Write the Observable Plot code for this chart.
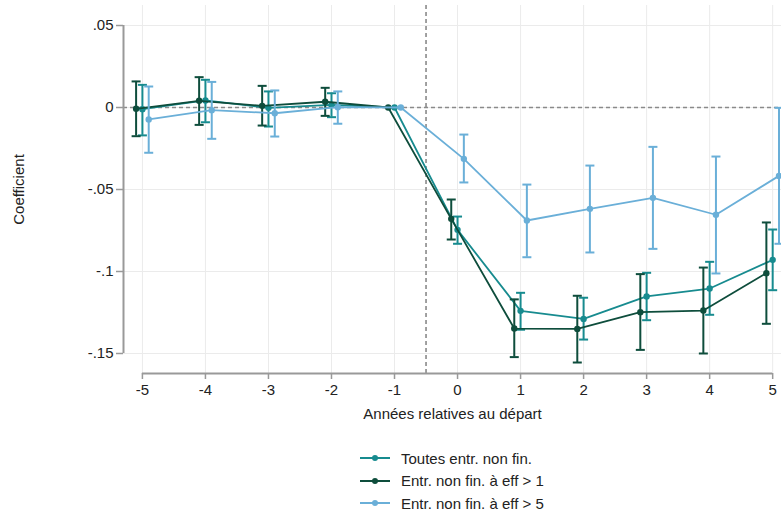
<!DOCTYPE html>
<html>
<head>
<meta charset="utf-8">
<script src="https://cdn.jsdelivr.net/npm/d3@7"></script>
<script src="https://cdn.jsdelivr.net/npm/@observablehq/plot@0.6"></script>
<style>
  html, body { margin: 0; padding: 0; background: #fff; }
  body { width: 781px; height: 511px; position: relative; overflow: hidden; font-family: "Liberation Sans", Arial, sans-serif; color: #222; }
  #legend { position: absolute; left: 360px; top: 447px; font-size: 15px; }
  .item { display: flex; align-items: center; height: 22.5px; }
  .item svg { margin-right: 11px; }
</style>
</head>
<body>
<div id="chart"></div>
<div id="legend"></div>
<script>
const years = [-5, -4, -3, -2, -1, 0, 1, 2, 3, 4, 5];
const seriesNames = ["Toutes entr. non fin.", "Entr. non fin. à eff > 1", "Entr. non fin. à eff > 5"];

const coefAll   = [-0.001, 0.0043, -0.0002, 0.0016, 0, -0.0746, -0.124, -0.1289, -0.1152, -0.1104, -0.0929];
const loAll     = [-0.017, -0.009, -0.0116, -0.0059, 0, -0.0831, -0.1355, -0.1415, -0.1297, -0.1264, -0.1114];
const hiAll     = [0.0138, 0.0169, 0.0098, 0.0087, 0, -0.0665, -0.113, -0.116, -0.1008, -0.0941, -0.0744];

const coefEff1  = [-0.0008, 0.0041, 0.001, 0.0035, 0, -0.0679, -0.1348, -0.135, -0.1248, -0.1238, -0.101];
const loEff1    = [-0.0175, -0.0106, -0.011, -0.0051, 0, -0.0805, -0.1522, -0.1555, -0.1478, -0.15, -0.1319];
const hiEff1    = [0.0159, 0.0185, 0.0132, 0.012, 0, -0.0561, -0.117, -0.1148, -0.1016, -0.0976, -0.0701];

const coefEff5  = [-0.0073, -0.0016, -0.0035, 0.0002, 0, -0.0313, -0.0689, -0.0618, -0.0551, -0.0654, -0.0417];
const loEff5    = [-0.0276, -0.0191, -0.0177, -0.0099, 0, -0.0457, -0.0913, -0.0884, -0.0862, -0.1012, -0.0831];
const hiEff5    = [0.0128, 0.0156, 0.0104, 0.0098, 0, -0.0165, -0.047, -0.0354, -0.024, -0.0299, -0.0002];

const yTicks = [0.05, 0, -0.05, -0.1, -0.15];
const yTickLabels = [".05", "0", "-.05", "-.1", "-.15"];
const xTickLabels = ["-5", "-4", "-3", "-2", "-1", "0", "1", "2", "3", "4", "5"];
const eventLine = [-0.5];

// styles (not data)
const colors = ["#178b8f", "#0e4d3c", "#6aafd8"];
const offsets = [0, -0.1, 0.1];
const xDomain = [-5.3, 5.14];
const yDomain = [-0.1622, 0.0622];

const seriesData = [
  [coefAll, loAll, hiAll],
  [coefEff1, loEff1, hiEff1],
  [coefEff5, loEff5, hiEff5]
].map(([c, lo, hi], s) => years.map((yr, i) => ({
  x: yr + offsets[s], coef: c[i], lo: lo[i], hi: hi[i], hasCI: yr !== -1, s
})));

const cap = { draw(ctx, size) { const w = Math.sqrt(size / Math.PI); ctx.moveTo(-w, 0); ctx.lineTo(w, 0); } };
const yLab = new Map(yTicks.map((t, i) => [t, yTickLabels[i]]));
const xLab = new Map(years.map((t, i) => [t, xTickLabels[i]]));

const marks = [
  Plot.gridX(years, { stroke: "#ebebeb", strokeOpacity: 1, strokeWidth: 1 }),
  Plot.gridY(yTicks, { stroke: "#ebebeb", strokeOpacity: 1, strokeWidth: 1 }),
  Plot.ruleY([0], { stroke: "#8a8a8a", strokeWidth: 1.6, strokeDasharray: "4,3" }),
  Plot.ruleX(eventLine, { stroke: "#8a8a8a", strokeWidth: 1.6, strokeDasharray: "4,3" }),
  Plot.ruleX([xDomain[0]], { y1: yTicks[yTicks.length - 1], y2: yTicks[0], stroke: "#999", strokeWidth: 2 }),
  Plot.ruleY([yDomain[0]], { x1: years[0], x2: years[years.length - 1], stroke: "#999", strokeWidth: 2 }),
  Plot.axisY({ ticks: yTicks, tickFormat: d => yLab.get(d), tickSize: 7, tickPadding: 3, stroke: "#999", strokeWidth: 1.5, fill: "#222", fontSize: 15,
    label: "Coefficient", labelAnchor: "center", labelOffset: 110, labelArrow: "none" }),
  Plot.axisX({ ticks: years, tickFormat: d => xLab.get(d), tickSize: 6, tickPadding: 5, stroke: "#999", strokeWidth: 1.5, fill: "#222", fontSize: 15,
    label: "Années relatives au départ", labelAnchor: "center", labelOffset: 45, labelArrow: "none" })
];

seriesData.forEach((d, s) => {
  const ci = d.filter(p => p.hasCI);
  marks.push(
    Plot.ruleX(ci, { x: "x", y1: "lo", y2: "hi", stroke: colors[s], strokeWidth: 2 }),
    Plot.dot(ci, { x: "x", y: "lo", symbol: cap, r: 4.5, stroke: colors[s], strokeWidth: 2, fill: "none" }),
    Plot.dot(ci, { x: "x", y: "hi", symbol: cap, r: 4.5, stroke: colors[s], strokeWidth: 2, fill: "none" }),
    Plot.line(d, { x: "x", y: "coef", stroke: colors[s], strokeWidth: 1.8 }),
    Plot.dot(d, { x: "x", y: "coef", r: 3.2, fill: colors[s], stroke: "none" })
  );
});

const chart = Plot.plot({
  width: 781,
  height: 430,
  marginLeft: 123,
  marginRight: 0,
  marginTop: 5,
  marginBottom: 57,
  style: { fontFamily: "'Liberation Sans', Arial, sans-serif", fontSize: "15px", color: "#222", background: "#fff" },
  x: { domain: xDomain },
  y: { domain: yDomain },
  marks
});
document.getElementById("chart").appendChild(chart);

const legend = document.getElementById("legend");
seriesNames.forEach((name, s) => {
  const item = document.createElement("div");
  item.className = "item";
  item.innerHTML = `<svg width="30" height="10"><line x1="0" x2="30" y1="5" y2="5" stroke="${colors[s]}" stroke-width="2"/><circle cx="15" cy="5" r="3" fill="${colors[s]}"/></svg><span>${name}</span>`;
  legend.appendChild(item);
});
</script>
</body>
</html>
